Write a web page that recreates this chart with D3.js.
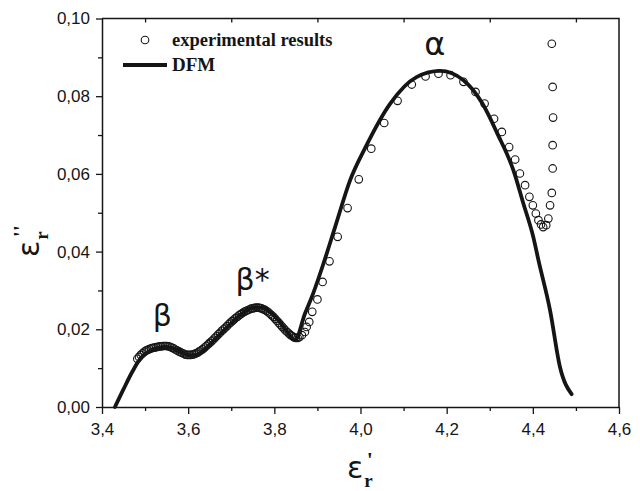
<!DOCTYPE html>
<html>
<head>
<meta charset="utf-8">
<script src="https://cdn.jsdelivr.net/npm/d3@7"></script>
<style>
  html, body { margin: 0; padding: 0; background: #fff; }
  svg { display: block; }
</style>
</head>
<body>
<svg id="chart" width="640" height="491"></svg>
<script>
// ---- data ----
const xTicks = [3.4, 3.6, 3.8, 4.0, 4.2, 4.4, 4.6];
const xTickLabels = ["3,4", "3,6", "3,8", "4,0", "4,2", "4,4", "4,6"];
const xMinor = [3.5, 3.7, 3.9, 4.1, 4.3, 4.5];
const yTicks = [0, 0.02, 0.04, 0.06, 0.08, 0.10];
const yTickLabels = ["0,00", "0,02", "0,04", "0,06", "0,08", "0,10"];
const yMinor = [0.01, 0.03, 0.05, 0.07, 0.09];

// DFM model curve (eps', eps'')
const dfmX = [3.430, 3.450, 3.470, 3.490, 3.510, 3.530, 3.550, 3.570, 3.590, 3.605, 3.620,
  3.640, 3.660, 3.690, 3.720, 3.750, 3.770, 3.790, 3.810, 3.830, 3.848, 3.871, 3.890,
  3.914, 3.941, 3.976, 4.010, 4.069, 4.130, 4.185, 4.239, 4.283, 4.318, 4.355, 4.378,
  4.401, 4.413, 4.440, 4.463, 4.490];
const dfmY = [0.0000, 0.0046, 0.0090, 0.0126, 0.0144, 0.0152, 0.0155, 0.0149, 0.0138, 0.0133, 0.0135,
  0.0150, 0.0172, 0.0205, 0.0236, 0.0255, 0.0256, 0.0244, 0.0222, 0.0193, 0.0172, 0.0240, 0.0292,
  0.0369, 0.0463, 0.0584, 0.0665, 0.0781, 0.0849, 0.0865, 0.0841, 0.0781, 0.0703, 0.0609, 0.0524,
  0.0438, 0.0378, 0.0249, 0.0103, 0.0033];

// experimental points
const expX = [
  3.482, 3.486, 3.490, 3.494, 3.498, 3.502, 3.506, 3.510, 3.514, 3.518, 3.522, 3.526,
  3.530, 3.534, 3.538, 3.542, 3.546, 3.550, 3.554, 3.558, 3.562, 3.566, 3.570, 3.574,
  3.578, 3.582, 3.586, 3.590, 3.594, 3.598, 3.602, 3.606, 3.610, 3.614, 3.618, 3.622,
  3.626, 3.630, 3.634, 3.638, 3.642, 3.646, 3.650, 3.654, 3.658, 3.662, 3.666, 3.670,
  3.674, 3.678, 3.682, 3.686, 3.690, 3.694, 3.698, 3.702, 3.706, 3.710, 3.714, 3.718,
  3.722, 3.726, 3.730, 3.734, 3.738, 3.742, 3.746, 3.750, 3.754, 3.758, 3.762, 3.766,
  3.770, 3.774, 3.778, 3.782, 3.786, 3.790, 3.794, 3.798, 3.802, 3.806, 3.810, 3.814,
  3.818, 3.822, 3.826, 3.830, 3.834, 3.838, 3.842, 3.846, 3.850, 3.854, 3.858,
  3.864, 3.871, 3.875, 3.881, 3.888, 3.900, 3.912, 3.928, 3.947, 3.970,
  3.996, 4.025, 4.055, 4.086, 4.119, 4.151, 4.181, 4.209, 4.239, 4.267, 4.288, 4.310, 4.328,
  4.345, 4.359, 4.370, 4.382, 4.392, 4.400, 4.407, 4.413, 4.419, 4.424, 4.431, 4.436, 4.440,
  4.444, 4.446, 4.446, 4.447, 4.446, 4.444];
const expY = [
  0.0124, 0.0129, 0.0134, 0.0138, 0.0142, 0.0145, 0.0147, 0.0149, 0.0151, 0.0152, 0.0153, 0.0154,
  0.0155, 0.0156, 0.0156, 0.0157, 0.0157, 0.0157, 0.0156, 0.0155, 0.0153, 0.0151, 0.0148, 0.0146,
  0.0143, 0.0141, 0.0139, 0.0137, 0.0135, 0.0134, 0.0134, 0.0134, 0.0135, 0.0136, 0.0138, 0.0140,
  0.0143, 0.0146, 0.0149, 0.0153, 0.0157, 0.0161, 0.0165, 0.0169, 0.0173, 0.0178, 0.0182, 0.0187,
  0.0191, 0.0196, 0.0200, 0.0204, 0.0208, 0.0213, 0.0217, 0.0221, 0.0225, 0.0229, 0.0232, 0.0236,
  0.0239, 0.0242, 0.0245, 0.0247, 0.0249, 0.0251, 0.0253, 0.0254, 0.0255, 0.0256, 0.0256, 0.0255,
  0.0254, 0.0252, 0.0250, 0.0247, 0.0244, 0.0240, 0.0236, 0.0232, 0.0227, 0.0222, 0.0217, 0.0212,
  0.0207, 0.0202, 0.0197, 0.0193, 0.0189, 0.0185, 0.0182, 0.0179, 0.0178, 0.0178, 0.0180,
  0.0185, 0.0193, 0.0206, 0.0219, 0.0245, 0.0277, 0.0322, 0.0375, 0.0438, 0.0512,
  0.0586, 0.0665, 0.0731, 0.0788, 0.0830, 0.0851, 0.0858, 0.0854, 0.0837, 0.0811, 0.0781, 0.0742, 0.0708,
  0.0669, 0.0637, 0.0601, 0.0571, 0.0541, 0.0519, 0.0498, 0.0481, 0.0470, 0.0463, 0.0468, 0.0485, 0.0519,
  0.0551, 0.0614, 0.0674, 0.0745, 0.0824, 0.0935];

const peakLabels = [
  { text: "\u03B1", x: 4.148, y: 0.0905, size: 32 },
  { text: "\u03B2", x: 3.518, y: 0.0208, size: 30 },
  { text: "\u03B2*", x: 3.710, y: 0.0300, size: 30 }
];

// ---- drawing ----
const svg = d3.select("#chart");
const ink = "#151515";

const x = d3.scaleLinear().domain([3.4, 4.6]).range([102, 619]);
const y = d3.scaleLinear().domain([0, 0.10]).range([407, 18.5]);

const tickFont = "'Liberation Sans', Arial, sans-serif";

// frame (top + right)
svg.append("path")
  .attr("d", `M${x(3.4)},${y(0.10)}H${x(4.6)}V${y(0)}`)
  .attr("fill", "none")
  .attr("stroke", ink)
  .attr("stroke-width", 1.5);

// top minor ticks, pointing in
svg.append("g")
  .attr("transform", `translate(0,${y(0.10)})`)
  .call(d3.axisBottom(x).tickValues(xMinor).tickSize(4).tickFormat(""))
  .call(g => g.select(".domain").remove())
  .selectAll("line").attr("stroke", ink).attr("stroke-width", 1.3);

// bottom axis
const gx = svg.append("g")
  .attr("transform", `translate(0,${y(0)})`)
  .call(d3.axisBottom(x).tickValues(xTicks).tickSize(7).tickSizeOuter(0)
    .tickFormat((d, i) => xTickLabels[i]));
gx.select(".domain").attr("stroke", ink).attr("stroke-width", 1.5);
gx.selectAll("line").attr("stroke", ink).attr("stroke-width", 1.3);
gx.selectAll("text").attr("fill", ink).attr("dy", "1.05em")
  .style("font-family", tickFont).style("font-size", "17px");

svg.append("g")
  .attr("transform", `translate(0,${y(0)})`)
  .call(d3.axisBottom(x).tickValues(xMinor).tickSize(4).tickFormat(""))
  .call(g => g.select(".domain").remove())
  .selectAll("line").attr("stroke", ink).attr("stroke-width", 1.3);

// left axis
const gy = svg.append("g")
  .attr("transform", `translate(${x(3.4)},0)`)
  .call(d3.axisLeft(y).tickValues(yTicks).tickSize(6).tickSizeOuter(0)
    .tickFormat((d, i) => yTickLabels[i]));
gy.select(".domain").attr("stroke", ink).attr("stroke-width", 1.5);
gy.selectAll("line").attr("stroke", ink).attr("stroke-width", 1.3);
gy.selectAll("text").attr("fill", ink).attr("x", -12)
  .style("font-family", tickFont).style("font-size", "17px");

svg.append("g")
  .attr("transform", `translate(${x(3.4)},0)`)
  .call(d3.axisLeft(y).tickValues(yMinor).tickSize(4).tickFormat(""))
  .call(g => g.select(".domain").remove())
  .selectAll("line").attr("stroke", ink).attr("stroke-width", 1.3);

// experimental circles
const expData = expX.map((v, i) => ({ x: v, y: expY[i] }));
svg.append("g")
  .selectAll("circle")
  .data(expData)
  .join("circle")
  .attr("cx", d => x(d.x))
  .attr("cy", d => y(d.y))
  .attr("r", 3.8)
  .attr("fill", "none")
  .attr("stroke", ink)
  .attr("stroke-width", 1.1);

// DFM line
const dfmData = dfmX.map((v, i) => ({ x: v, y: dfmY[i] }));
svg.append("path")
  .datum(dfmData)
  .attr("fill", "none")
  .attr("stroke", ink)
  .attr("stroke-width", 3.8)
  .attr("stroke-linecap", "round")
  .attr("d", d3.line().x(d => x(d.x)).y(d => y(d.y)).curve(d3.curveMonotoneX));

// peak labels
svg.append("g")
  .selectAll("text")
  .data(peakLabels)
  .join("text")
  .attr("x", d => x(d.x))
  .attr("y", d => y(d.y))
  .attr("fill", ink)
  .style("font-family", "'DejaVu Sans', sans-serif")
  .style("font-size", d => d.size + "px")
  .text(d => d.text);

// legend
const legend = svg.append("g")
  .style("font-family", "'Liberation Serif', 'Times New Roman', serif")
  .style("font-weight", "bold")
  .style("font-size", "18.5px")
  .attr("fill", ink);
legend.append("circle").attr("cx", 145).attr("cy", 40).attr("r", 3.8)
  .attr("fill", "none").attr("stroke", ink).attr("stroke-width", 1.1);
legend.append("text").attr("x", 172).attr("y", 46).text("experimental results");
legend.append("line").attr("x1", 123).attr("x2", 167).attr("y1", 65).attr("y2", 65)
  .attr("stroke", ink).attr("stroke-width", 3.8);
legend.append("text").attr("x", 172).attr("y", 71).style("font-size", "19px").text("DFM");

// x axis title
const xt = svg.append("text").attr("x", 347).attr("y", 478).attr("fill", ink);
xt.append("tspan").style("font-family", "'DejaVu Sans', sans-serif").style("font-size", "30px").text("\u03B5");
xt.append("tspan").attr("dy", 9).attr("dx", 1)
  .style("font-family", "'Liberation Serif', serif").style("font-weight", "bold").style("font-size", "19px").text("r");
xt.append("tspan").attr("dy", -20).attr("dx", -6)
  .style("font-family", "'Liberation Serif', serif").style("font-weight", "bold").style("font-size", "22px").text("'");

// y axis title
const yt = svg.append("text").attr("transform", "translate(39,257) rotate(-90)").attr("fill", ink);
yt.append("tspan").style("font-family", "'DejaVu Sans', sans-serif").style("font-size", "30px").text("\u03B5");
yt.append("tspan").attr("dy", 9).attr("dx", 1)
  .style("font-family", "'Liberation Serif', serif").style("font-weight", "bold").style("font-size", "19px").text("r");
yt.append("tspan").attr("dy", -20).attr("dx", -6)
  .style("font-family", "'Liberation Serif', serif").style("font-weight", "bold").style("font-size", "22px").text("''");
</script>
</body>
</html>
